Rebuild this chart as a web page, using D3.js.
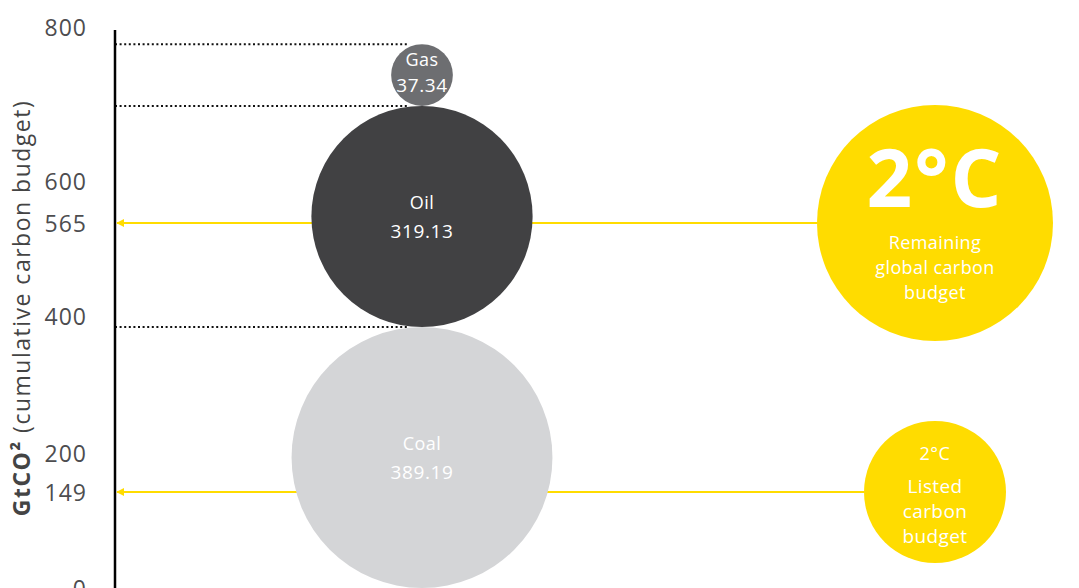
<head>
<style>
  body { margin: 0; background: #fff; }
  text { font-family: "Open Sans", Lato, sans-serif; }
</style>
</head>
<body>
<div id="chart"></div>
<script src="https://cdn.jsdelivr.net/npm/d3@7/dist/d3.min.js"></script>
<script>
    var width = 1079,
        height = 588;

    // fossil reserves (GtCO2), stacked bottom to top
    var fuels = ['Coal', 'Oil', 'Gas'];
    var reserves = [389.19, 319.13, 37.34];
    var fuelColors = ['#d4d5d7', '#414143', '#6d6e71'];

    // 2 degree budgets
    var budgets = [565, 149];
    var budgetLines = [['Remaining', 'global carbon', 'budget'], ['Listed', 'carbon', 'budget']];

    var tickValues = [0, 149, 200, 400, 565, 600, 800];

    var yellow = '#ffdc00';
    var axisX = 115,
        bubbleX = 422,
        budgetX = 935;

    var svg = d3.select('#chart')
        .append('svg')
        .attr('width', width)
        .attr('height', height);

    // axis in the original is not to scale, so piecewise through the ticks
    var y = d3.scaleLinear()
        .domain(tickValues)
        .range([588, 492, 453, 316, 223, 181, 27]);

    var r = d3.scaleLinear()
        .domain([0, 400])
        .range([20.3, 133.5]);

    var rBudget = d3.scaleLinear()
        .domain([149, 565])
        .range([71, 118]);

    // stack the bubbles
    var bottom = y(0);
    var bubbles = fuels.map(function(f, i){
        var rad = r(reserves[i]);
        var b = {name: f, value: reserves[i], color: fuelColors[i], r: rad, cy: bottom - rad, top: bottom - 2 * rad};
        bottom = b.top;
        return b;
    });

    // arrowhead
    svg.append('defs').append('marker')
        .attr('id', 'arrow')
        .attr('viewBox', '0 0 10 10')
        .attr('refX', 9)
        .attr('refY', 5)
        .attr('markerWidth', 4)
        .attr('markerHeight', 4)
        .attr('orient', 'auto')
        .append('path')
        .attr('d', 'M 0 0 L 10 5 L 0 10 z')
        .attr('fill', yellow);

    // dotted guide lines at the top of each bubble
    svg.selectAll('.guide')
        .data(bubbles)
        .enter().append('line')
        .attr('class', 'guide')
        .attr('x1', axisX)
        .attr('x2', bubbleX - 15)
        .attr('y1', function(d){ return d.top; })
        .attr('y2', function(d){ return d.top; })
        .attr('stroke', '#111')
        .attr('stroke-width', 2)
        .attr('stroke-dasharray', '2,2.6');

    // axis
    svg.append('line')
        .attr('x1', axisX)
        .attr('x2', axisX)
        .attr('y1', 30)
        .attr('y2', height)
        .attr('stroke', '#000')
        .attr('stroke-width', 2.5);

    // yellow arrows from budgets to the axis
    svg.selectAll('.arrow')
        .data(budgets)
        .enter().append('line')
        .attr('class', 'arrow')
        .attr('x1', function(d){ return budgetX - rBudget(d); })
        .attr('x2', axisX + 2)
        .attr('y1', function(d){ return y(d); })
        .attr('y2', function(d){ return y(d); })
        .attr('stroke', yellow)
        .attr('stroke-width', 2)
        .attr('marker-end', 'url(#arrow)');

    // fuel bubbles
    var g = svg.selectAll('.bubble')
        .data(bubbles)
        .enter().append('g')
        .attr('class', 'bubble');

    g.append('circle')
        .attr('cx', bubbleX)
        .attr('cy', function(d){ return d.cy; })
        .attr('r', function(d){ return d.r; })
        .attr('fill', function(d){ return d.color; });

    g.append('text')
        .attr('x', bubbleX)
        .attr('y', function(d){ return d.cy - (d.r < 40 ? 16 : 15); })
        .attr('text-anchor', 'middle')
        .attr('dominant-baseline', 'central')
        .attr('fill', '#fff')
        .attr('font-size', 18)
        .attr('letter-spacing', 0.5)
        .text(function(d){ return d.name; });

    g.append('text')
        .attr('x', bubbleX)
        .attr('y', function(d){ return d.cy + (d.r < 40 ? 10 : 14); })
        .attr('text-anchor', 'middle')
        .attr('dominant-baseline', 'central')
        .attr('fill', '#fff')
        .attr('font-size', 19)
        .attr('letter-spacing', 0.6)
        .text(function(d){ return d.value.toFixed(2); });

    // budget bubbles
    var bg = svg.selectAll('.budget')
        .data(budgets)
        .enter().append('g')
        .attr('class', 'budget');

    bg.append('circle')
        .attr('cx', budgetX)
        .attr('cy', function(d){ return y(d); })
        .attr('r', function(d){ return rBudget(d); })
        .attr('fill', yellow);

    bg.append('text')
        .attr('x', budgetX)
        .attr('y', function(d, i){ return y(d) + (i == 0 ? -48 : -39); })
        .attr('text-anchor', 'middle')
        .attr('dominant-baseline', 'central')
        .attr('fill', '#fff')
        .attr('font-weight', function(d, i){ return i == 0 ? 'bold' : 'normal'; })
        .attr('font-size', function(d, i){ return i == 0 ? 80 : 18; })
        .attr('letter-spacing', function(d, i){ return i == 0 ? 2 : 0.5; })
        .text('2°C');

    bg.each(function(d, i){
        var start = i == 0 ? 19 : -6;
        d3.select(this).selectAll('.line')
            .data(budgetLines[i])
            .enter().append('text')
            .attr('x', budgetX)
            .attr('y', function(t, j){ return y(d) + start + j * 25; })
            .attr('text-anchor', 'middle')
            .attr('dominant-baseline', 'central')
            .attr('fill', '#fff')
            .attr('font-size', i == 0 ? 18 : 19)
            .attr('letter-spacing', 0.4)
            .text(function(t){ return t; });
    });

    svg.selectAll('.tick')
        .data(tickValues)
        .enter().append('text')
        .attr('class', 'tick')
        .attr('x', 87)
        .attr('y', function(d){ return y(d); })
        .attr('text-anchor', 'end')
        .attr('dominant-baseline', 'central')
        .attr('fill', '#4d4d4f')
        .attr('font-size', 23)
        .attr('letter-spacing', 1)
        .text(function(d){ return d; });

    var title = svg.append('text')
        .attr('transform', 'translate(30, 308) rotate(-90)')
        .attr('text-anchor', 'middle')
        .attr('fill', '#444')
        .attr('font-size', 23)
        .attr('letter-spacing', 1.5);
    title.append('tspan').attr('font-weight', 'bold').text('GtCO²');
    title.append('tspan').text(' (cumulative carbon budget)');
</script>
</body>
